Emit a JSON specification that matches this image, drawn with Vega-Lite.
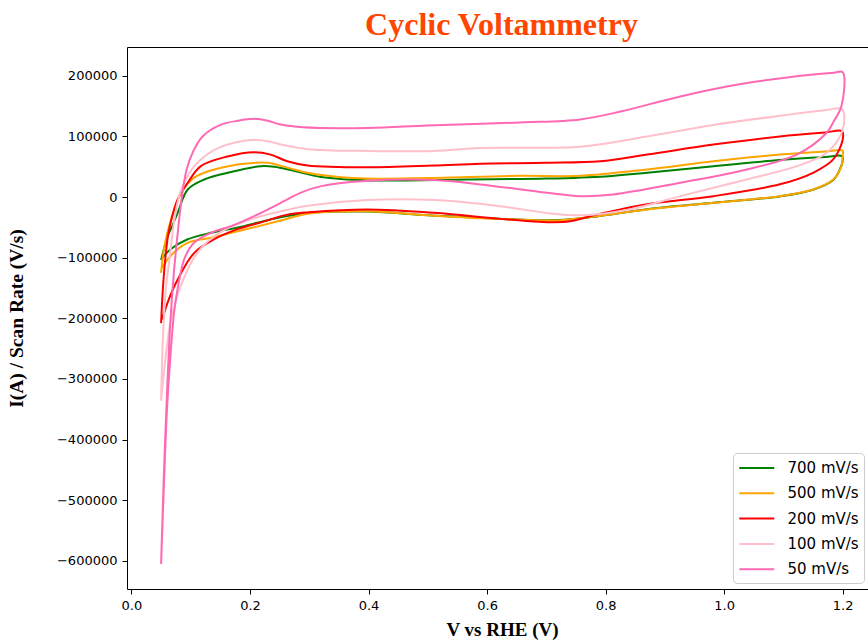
{
  "$schema": "https://vega.github.io/schema/vega-lite/v6.json",
  "width": 741,
  "height": 542,
  "autosize": {"type": "none"},
  "padding": {"left": 127, "top": 47, "right": 0, "bottom": 52},
  "background": "white",
  "title": {"text": "Cyclic Voltammetry", "font": "Liberation Serif", "fontSize": 32, "fontWeight": "bold", "color": "#FF4500", "anchor": "middle", "dx": 4, "dy": 25, "offset": 5, "baseline": "alphabetic"},
  "config": {
    "view": {"stroke": null},
    "axis": {"grid": false, "domainColor": "black", "tickColor": "black", "labelColor": "black", "labelFont": "DejaVu Sans", "labelFontSize": 13, "tickSize": 5, "labelPadding": 5, "domainWidth": 1, "tickWidth": 1, "titleFont": "Liberation Serif", "titleFontSize": 19, "titleFontWeight": "bold", "titleColor": "black"}
  },
  "data": {"values": [
    {"s":"700 mV/s","i":0,"v":0.050,"c":-104000},
    {"s":"700 mV/s","i":1,"v":0.055,"c":-85000},
    {"s":"700 mV/s","i":2,"v":0.061,"c":-64500},
    {"s":"700 mV/s","i":3,"v":0.070,"c":-45000},
    {"s":"700 mV/s","i":4,"v":0.078,"c":-26000},
    {"s":"700 mV/s","i":5,"v":0.095,"c":12500},
    {"s":"700 mV/s","i":6,"v":0.123,"c":29000},
    {"s":"700 mV/s","i":7,"v":0.162,"c":40000},
    {"s":"700 mV/s","i":8,"v":0.218,"c":51000},
    {"s":"700 mV/s","i":9,"v":0.241,"c":50000},
    {"s":"700 mV/s","i":10,"v":0.275,"c":43000},
    {"s":"700 mV/s","i":11,"v":0.32,"c":33000},
    {"s":"700 mV/s","i":12,"v":0.4,"c":27500},
    {"s":"700 mV/s","i":13,"v":0.566,"c":29000},
    {"s":"700 mV/s","i":14,"v":0.7,"c":30500},
    {"s":"700 mV/s","i":15,"v":0.8,"c":34000},
    {"s":"700 mV/s","i":16,"v":0.87,"c":40000},
    {"s":"700 mV/s","i":17,"v":0.982,"c":51000},
    {"s":"700 mV/s","i":18,"v":1.094,"c":61000},
    {"s":"700 mV/s","i":19,"v":1.17,"c":66000},
    {"s":"700 mV/s","i":20,"v":1.199,"c":67500},
    {"s":"700 mV/s","i":21,"v":1.2,"c":60000},
    {"s":"700 mV/s","i":22,"v":1.195,"c":45000},
    {"s":"700 mV/s","i":23,"v":1.184,"c":28000},
    {"s":"700 mV/s","i":24,"v":1.15,"c":12000},
    {"s":"700 mV/s","i":25,"v":1.094,"c":1000},
    {"s":"700 mV/s","i":26,"v":0.982,"c":-9500},
    {"s":"700 mV/s","i":27,"v":0.87,"c":-20000},
    {"s":"700 mV/s","i":28,"v":0.785,"c":-32000},
    {"s":"700 mV/s","i":29,"v":0.72,"c":-38000},
    {"s":"700 mV/s","i":30,"v":0.65,"c":-37000},
    {"s":"700 mV/s","i":31,"v":0.589,"c":-34000},
    {"s":"700 mV/s","i":32,"v":0.5,"c":-30000},
    {"s":"700 mV/s","i":33,"v":0.398,"c":-24000},
    {"s":"700 mV/s","i":34,"v":0.3,"c":-26000},
    {"s":"700 mV/s","i":35,"v":0.235,"c":-37000},
    {"s":"700 mV/s","i":36,"v":0.19,"c":-48000},
    {"s":"700 mV/s","i":37,"v":0.134,"c":-59000},
    {"s":"700 mV/s","i":38,"v":0.094,"c":-70000},
    {"s":"700 mV/s","i":39,"v":0.066,"c":-86000},
    {"s":"700 mV/s","i":40,"v":0.05,"c":-103000},

    {"s":"500 mV/s","i":0,"v":0.050,"c":-125000},
    {"s":"500 mV/s","i":1,"v":0.0556,"c":-81000},
    {"s":"500 mV/s","i":2,"v":0.0667,"c":-37000},
    {"s":"500 mV/s","i":3,"v":0.0836,"c":7000},
    {"s":"500 mV/s","i":4,"v":0.106,"c":32000},
    {"s":"500 mV/s","i":5,"v":0.14,"c":45500},
    {"s":"500 mV/s","i":6,"v":0.19,"c":55000},
    {"s":"500 mV/s","i":7,"v":0.23,"c":56500},
    {"s":"500 mV/s","i":8,"v":0.263,"c":48500},
    {"s":"500 mV/s","i":9,"v":0.297,"c":40000},
    {"s":"500 mV/s","i":10,"v":0.35,"c":33000},
    {"s":"500 mV/s","i":11,"v":0.398,"c":30500},
    {"s":"500 mV/s","i":12,"v":0.5,"c":31500},
    {"s":"500 mV/s","i":13,"v":0.656,"c":35000},
    {"s":"500 mV/s","i":14,"v":0.757,"c":35000},
    {"s":"500 mV/s","i":15,"v":0.87,"c":45500},
    {"s":"500 mV/s","i":16,"v":0.982,"c":59000},
    {"s":"500 mV/s","i":17,"v":1.094,"c":70000},
    {"s":"500 mV/s","i":18,"v":1.17,"c":75000},
    {"s":"500 mV/s","i":19,"v":1.2,"c":76500},
    {"s":"500 mV/s","i":20,"v":1.2,"c":68000},
    {"s":"500 mV/s","i":21,"v":1.198,"c":51000},
    {"s":"500 mV/s","i":22,"v":1.184,"c":29000},
    {"s":"500 mV/s","i":23,"v":1.15,"c":12500},
    {"s":"500 mV/s","i":24,"v":1.094,"c":1500},
    {"s":"500 mV/s","i":25,"v":0.982,"c":-9500},
    {"s":"500 mV/s","i":26,"v":0.87,"c":-20500},
    {"s":"500 mV/s","i":27,"v":0.785,"c":-31500},
    {"s":"500 mV/s","i":28,"v":0.72,"c":-38500},
    {"s":"500 mV/s","i":29,"v":0.65,"c":-37000},
    {"s":"500 mV/s","i":30,"v":0.589,"c":-35000},
    {"s":"500 mV/s","i":31,"v":0.5,"c":-30000},
    {"s":"500 mV/s","i":32,"v":0.398,"c":-23500},
    {"s":"500 mV/s","i":33,"v":0.3,"c":-27000},
    {"s":"500 mV/s","i":34,"v":0.247,"c":-40000},
    {"s":"500 mV/s","i":35,"v":0.19,"c":-54000},
    {"s":"500 mV/s","i":36,"v":0.134,"c":-67000},
    {"s":"500 mV/s","i":37,"v":0.094,"c":-76000},
    {"s":"500 mV/s","i":38,"v":0.066,"c":-97000},
    {"s":"500 mV/s","i":39,"v":0.05,"c":-120000},

    {"s":"200 mV/s","i":0,"v":0.050,"c":-208000},
    {"s":"200 mV/s","i":1,"v":0.053,"c":-152000},
    {"s":"200 mV/s","i":2,"v":0.057,"c":-103000},
    {"s":"200 mV/s","i":3,"v":0.062,"c":-62000},
    {"s":"200 mV/s","i":4,"v":0.068,"c":-35000},
    {"s":"200 mV/s","i":5,"v":0.078,"c":-4000},
    {"s":"200 mV/s","i":6,"v":0.095,"c":23500},
    {"s":"200 mV/s","i":7,"v":0.117,"c":51000},
    {"s":"200 mV/s","i":8,"v":0.162,"c":67000},
    {"s":"200 mV/s","i":9,"v":0.207,"c":74000},
    {"s":"200 mV/s","i":10,"v":0.235,"c":70000},
    {"s":"200 mV/s","i":11,"v":0.263,"c":59000},
    {"s":"200 mV/s","i":12,"v":0.297,"c":52000},
    {"s":"200 mV/s","i":13,"v":0.398,"c":49000},
    {"s":"200 mV/s","i":14,"v":0.51,"c":52000},
    {"s":"200 mV/s","i":15,"v":0.589,"c":55000},
    {"s":"200 mV/s","i":16,"v":0.7,"c":56500},
    {"s":"200 mV/s","i":17,"v":0.791,"c":59000},
    {"s":"200 mV/s","i":18,"v":0.87,"c":70000},
    {"s":"200 mV/s","i":19,"v":0.982,"c":86500},
    {"s":"200 mV/s","i":20,"v":1.094,"c":100000},
    {"s":"200 mV/s","i":21,"v":1.17,"c":106500},
    {"s":"200 mV/s","i":22,"v":1.199,"c":108500},
    {"s":"200 mV/s","i":23,"v":1.2,"c":95000},
    {"s":"200 mV/s","i":24,"v":1.184,"c":62000},
    {"s":"200 mV/s","i":25,"v":1.15,"c":40000},
    {"s":"200 mV/s","i":26,"v":1.094,"c":21000},
    {"s":"200 mV/s","i":27,"v":0.982,"c":1500},
    {"s":"200 mV/s","i":28,"v":0.87,"c":-12000},
    {"s":"200 mV/s","i":29,"v":0.785,"c":-29000},
    {"s":"200 mV/s","i":30,"v":0.74,"c":-40000},
    {"s":"200 mV/s","i":31,"v":0.707,"c":-41500},
    {"s":"200 mV/s","i":32,"v":0.673,"c":-40000},
    {"s":"200 mV/s","i":33,"v":0.622,"c":-36000},
    {"s":"200 mV/s","i":34,"v":0.51,"c":-26000},
    {"s":"200 mV/s","i":35,"v":0.398,"c":-20500},
    {"s":"200 mV/s","i":36,"v":0.3,"c":-25000},
    {"s":"200 mV/s","i":37,"v":0.263,"c":-29000},
    {"s":"200 mV/s","i":38,"v":0.218,"c":-42000},
    {"s":"200 mV/s","i":39,"v":0.179,"c":-53000},
    {"s":"200 mV/s","i":40,"v":0.139,"c":-70000},
    {"s":"200 mV/s","i":41,"v":0.106,"c":-92000},
    {"s":"200 mV/s","i":42,"v":0.078,"c":-136000},
    {"s":"200 mV/s","i":43,"v":0.061,"c":-174000},
    {"s":"200 mV/s","i":44,"v":0.052,"c":-202000},

    {"s":"100 mV/s","i":0,"v":0.050,"c":-336000},
    {"s":"100 mV/s","i":1,"v":0.053,"c":-235000},
    {"s":"100 mV/s","i":2,"v":0.058,"c":-152000},
    {"s":"100 mV/s","i":3,"v":0.064,"c":-103000},
    {"s":"100 mV/s","i":4,"v":0.0725,"c":-37000},
    {"s":"100 mV/s","i":5,"v":0.08,"c":0},
    {"s":"100 mV/s","i":6,"v":0.089,"c":23500},
    {"s":"100 mV/s","i":7,"v":0.106,"c":51000},
    {"s":"100 mV/s","i":8,"v":0.14,"c":78000},
    {"s":"100 mV/s","i":9,"v":0.19,"c":93000},
    {"s":"100 mV/s","i":10,"v":0.21,"c":94000},
    {"s":"100 mV/s","i":11,"v":0.23,"c":92000},
    {"s":"100 mV/s","i":12,"v":0.26,"c":85000},
    {"s":"100 mV/s","i":13,"v":0.297,"c":79000},
    {"s":"100 mV/s","i":14,"v":0.4,"c":76000},
    {"s":"100 mV/s","i":15,"v":0.51,"c":76000},
    {"s":"100 mV/s","i":16,"v":0.589,"c":81000},
    {"s":"100 mV/s","i":17,"v":0.757,"c":83000},
    {"s":"100 mV/s","i":18,"v":0.87,"c":100000},
    {"s":"100 mV/s","i":19,"v":0.982,"c":119000},
    {"s":"100 mV/s","i":20,"v":1.094,"c":134000},
    {"s":"100 mV/s","i":21,"v":1.17,"c":143000},
    {"s":"100 mV/s","i":22,"v":1.199,"c":145000},
    {"s":"100 mV/s","i":23,"v":1.2,"c":111000},
    {"s":"100 mV/s","i":24,"v":1.173,"c":73000},
    {"s":"100 mV/s","i":25,"v":1.1225,"c":51000},
    {"s":"100 mV/s","i":26,"v":1.038,"c":29000},
    {"s":"100 mV/s","i":27,"v":0.926,"c":1500},
    {"s":"100 mV/s","i":28,"v":0.842,"c":-20000},
    {"s":"100 mV/s","i":29,"v":0.76,"c":-30000},
    {"s":"100 mV/s","i":30,"v":0.707,"c":-27000},
    {"s":"100 mV/s","i":31,"v":0.622,"c":-15000},
    {"s":"100 mV/s","i":32,"v":0.51,"c":-5000},
    {"s":"100 mV/s","i":33,"v":0.398,"c":-5000},
    {"s":"100 mV/s","i":34,"v":0.3,"c":-14000},
    {"s":"100 mV/s","i":35,"v":0.263,"c":-21000},
    {"s":"100 mV/s","i":36,"v":0.207,"c":-35000},
    {"s":"100 mV/s","i":37,"v":0.15,"c":-58000},
    {"s":"100 mV/s","i":38,"v":0.111,"c":-92000},
    {"s":"100 mV/s","i":39,"v":0.083,"c":-147000},
    {"s":"100 mV/s","i":40,"v":0.066,"c":-206000},
    {"s":"100 mV/s","i":41,"v":0.057,"c":-270000},
    {"s":"100 mV/s","i":42,"v":0.05,"c":-336000},

    {"s":"50 mV/s","i":0,"v":0.050,"c":-605000},
    {"s":"50 mV/s","i":1,"v":0.055,"c":-450000},
    {"s":"50 mV/s","i":2,"v":0.061,"c":-300000},
    {"s":"50 mV/s","i":3,"v":0.066,"c":-200000},
    {"s":"50 mV/s","i":4,"v":0.072,"c":-120000},
    {"s":"50 mV/s","i":5,"v":0.078,"c":-60000},
    {"s":"50 mV/s","i":6,"v":0.085,"c":0},
    {"s":"50 mV/s","i":7,"v":0.093,"c":45000},
    {"s":"50 mV/s","i":8,"v":0.104,"c":75000},
    {"s":"50 mV/s","i":9,"v":0.12,"c":100000},
    {"s":"50 mV/s","i":10,"v":0.15,"c":119000},
    {"s":"50 mV/s","i":11,"v":0.18,"c":126000},
    {"s":"50 mV/s","i":12,"v":0.207,"c":129000},
    {"s":"50 mV/s","i":13,"v":0.23,"c":126000},
    {"s":"50 mV/s","i":14,"v":0.25,"c":120000},
    {"s":"50 mV/s","i":15,"v":0.29,"c":115000},
    {"s":"50 mV/s","i":16,"v":0.4,"c":114000},
    {"s":"50 mV/s","i":17,"v":0.5,"c":118000},
    {"s":"50 mV/s","i":18,"v":0.656,"c":123000},
    {"s":"50 mV/s","i":19,"v":0.757,"c":128000},
    {"s":"50 mV/s","i":20,"v":0.825,"c":141000},
    {"s":"50 mV/s","i":21,"v":0.926,"c":166000},
    {"s":"50 mV/s","i":22,"v":1.038,"c":188000},
    {"s":"50 mV/s","i":23,"v":1.15,"c":202000},
    {"s":"50 mV/s","i":24,"v":1.185,"c":205000},
    {"s":"50 mV/s","i":25,"v":1.2,"c":206000},
    {"s":"50 mV/s","i":26,"v":1.198,"c":150000},
    {"s":"50 mV/s","i":27,"v":1.185,"c":125000},
    {"s":"50 mV/s","i":28,"v":1.173,"c":106000},
    {"s":"50 mV/s","i":29,"v":1.1225,"c":70000},
    {"s":"50 mV/s","i":30,"v":1.038,"c":45500},
    {"s":"50 mV/s","i":31,"v":0.926,"c":23600},
    {"s":"50 mV/s","i":32,"v":0.813,"c":4300},
    {"s":"50 mV/s","i":33,"v":0.757,"c":1500},
    {"s":"50 mV/s","i":34,"v":0.701,"c":7100},
    {"s":"50 mV/s","i":35,"v":0.589,"c":20800},
    {"s":"50 mV/s","i":36,"v":0.51,"c":28000},
    {"s":"50 mV/s","i":37,"v":0.4,"c":27000},
    {"s":"50 mV/s","i":38,"v":0.32,"c":18000},
    {"s":"50 mV/s","i":39,"v":0.285,"c":7000},
    {"s":"50 mV/s","i":40,"v":0.263,"c":-4000},
    {"s":"50 mV/s","i":41,"v":0.207,"c":-31500},
    {"s":"50 mV/s","i":42,"v":0.168,"c":-48000},
    {"s":"50 mV/s","i":43,"v":0.134,"c":-59000},
    {"s":"50 mV/s","i":44,"v":0.106,"c":-75000},
    {"s":"50 mV/s","i":45,"v":0.09,"c":-100000},
    {"s":"50 mV/s","i":46,"v":0.08,"c":-140000},
    {"s":"50 mV/s","i":47,"v":0.072,"c":-190000},
    {"s":"50 mV/s","i":48,"v":0.066,"c":-260000},
    {"s":"50 mV/s","i":49,"v":0.06,"c":-350000},
    {"s":"50 mV/s","i":50,"v":0.055,"c":-470000},
    {"s":"50 mV/s","i":51,"v":0.05,"c":-605000}
  ]},
  "encoding": {
    "y": {"field": "c", "type": "quantitative", "title": "I(A) / Scan Rate (V/s)",
      "scale": {"domain": [-646500, 247500], "nice": false, "zero": false},
      "axis": {"values": [-600000, -500000, -400000, -300000, -200000, -100000, 0, 100000, 200000], "format": "d", "titlePadding": 30, "titleFontSize": 19.5}}
  },
  "layer": [
    {
      "mark": {"type": "line", "interpolate": "catmull-rom", "strokeWidth": 2, "clip": true},
      "encoding": {
        "x": {"field": "v", "type": "quantitative", "title": "V vs RHE (V)",
          "scale": {"domain": [-0.0075, 1.2427], "nice": false, "zero": false},
          "axis": {"values": [0, 0.2, 0.4, 0.6, 0.8, 1.0, 1.2], "format": ".1f", "titleX": 375, "titlePadding": 8}},
        "color": {"field": "s", "type": "nominal",
          "scale": {"domain": ["700 mV/s", "500 mV/s", "200 mV/s", "100 mV/s", "50 mV/s"], "range": ["#008000", "#FFA500", "#FF0000", "#FFC0CB", "#FF69B4"]},
          "legend": {"title": null, "orient": "none", "legendX": 606, "legendY": 406, "symbolType": "M-1,0H3", "symbolSize": 306, "symbolStrokeWidth": 2, "labelFont": "DejaVu Sans", "labelFontSize": 15, "labelColor": "black", "labelOffset": 29.5, "padding": 5, "rowPadding": 7.3, "fillColor": "rgba(255,255,255,0.8)", "strokeColor": "#cccccc", "cornerRadius": 4}},
        "order": {"field": "i", "type": "quantitative"}
      }
    },
    {
      "mark": {"type": "line", "strokeOpacity": 0},
      "encoding": {
        "x": {"field": "v", "type": "quantitative", "axis": {"orient": "top", "labels": false, "ticks": false, "title": null, "domain": true}}
      }
    }
  ],
  "resolve": {"axis": {"x": "independent"}}
}
